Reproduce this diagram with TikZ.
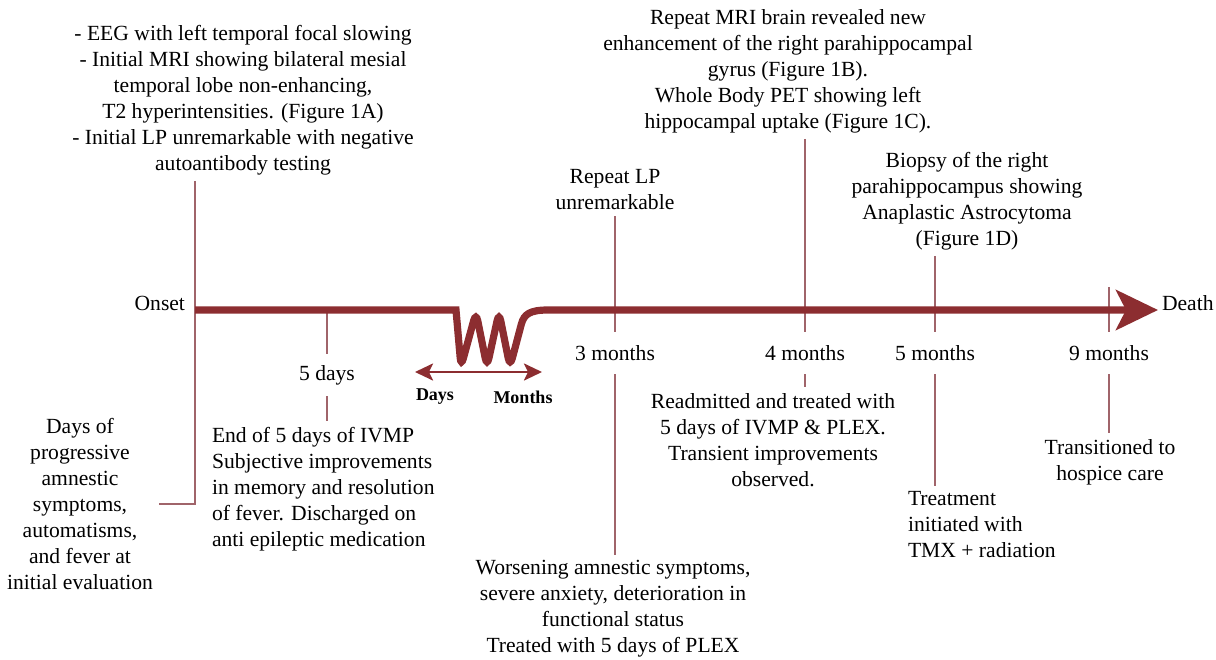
\documentclass[tikz,border=0pt]{standalone}
\usepackage{fontspec}
\setmainfont{Liberation Serif}
\usetikzlibrary{arrows.meta}
\definecolor{linered}{RGB}{140,45,48}
\definecolor{tickred}{RGB}{160,100,106}
\begin{document}
\begin{tikzpicture}[x=0.5pt,y=-0.5pt,
  mainline/.style={draw=linered,line width=3.6pt},
  tick/.style={draw=tickred,line width=1.2pt},
  txt/.style={inner sep=0pt,outer sep=3pt,align=center,font=\fontsize{10.8}{13}\selectfont},
  when/.style={txt,minimum height=21pt,outer sep=0pt}]
\useasboundingbox (0,0) rectangle (1216,659);
% above the line
\node[txt] (mri1) at (243,100) {- EEG with left temporal focal slowing\\
  - Initial MRI showing bilateral mesial\\ temporal lobe non-enhancing,\\
  T2 hyperintensities. (Figure 1A)\\ - Initial LP unremarkable with negative\\
  autoantibody testing};
\node[txt] (lp) at (615,190) {Repeat LP\\ unremarkable};
\node[txt] (mri2) at (788,71) {Repeat MRI brain revealed new\\
  enhancement of the right parahippocampal\\ gyrus (Figure 1B).\\
  Whole Body PET showing left\\ hippocampal uptake (Figure 1C).};
\node[txt] (biopsy) at (967,201) {Biopsy of the right\\ parahippocampus showing\\
  Anaplastic Astrocytoma\\ (Figure 1D)};
\node[txt,anchor=east] (onset) at (191,303) {Onset};
\node[txt,anchor=west] (death) at (1156,303) {Death};
% time points
\node[when] (d5) at (327,375) {5 days};
\node[when] (m3) at (615,353) {3 months};
\node[when] (m4) at (805,353) {4 months};
\node[when] (m5) at (935,353) {5 months};
\node[when] (m9) at (1109,353) {9 months};
% below the line
\node[txt] (prog) at (80,504) {Days of\\ progressive\\ amnestic\\ symptoms,\\
  automatisms,\\ and fever at\\ initial evaluation};
\node[txt,align=left,anchor=west] (ivmp) at (206,489) {End of 5 days of IVMP\\
  Subjective improvements\\ in memory and resolution\\ of fever. Discharged on\\
  anti epileptic medication};
\node[txt,font=\fontsize{9}{11}\bfseries] (days) at (435,397) {Days};
\node[txt,font=\fontsize{9}{11}\bfseries] (months) at (523,397) {Months};
\node[txt] (worse) at (613,609) {Worsening amnestic symptoms,\\
  severe anxiety, deterioration in\\ functional status\\ Treated with 5 days of PLEX};
\node[txt] (readm) at (773,440) {Readmitted and treated with\\ 5 days of IVMP \& PLEX.\\
  Transient improvements\\ observed.};
\node[txt,align=left,anchor=west] (treat) at (902,525) {Treatment\\ initiated with\\
  TMX + radiation};
\node[txt] (hospice) at (1110,462) {Transitioned to\\ hospice care};
% ticks
\coordinate (o) at (195,310);
\coordinate (e) at (1158,310);
\coordinate (h9) at (1109,287);
\draw[tick] (o |- mri1.south) -- (o |- prog.east) -- (prog.east);
\draw[tick] (d5.north |- o) -- (d5.north);
\draw[tick] (d5.south) -- (d5.south |- ivmp.north);
\draw[tick] (m3.north |- lp.south) -- (m3.north);
\draw[tick] (m3.south) -- (m3.south |- worse.north);
\draw[tick] (m4.north |- mri2.south) -- (m4.north);
\draw[tick] (m4.south) -- (m4.south |- readm.north);
\draw[tick] (m5.north |- biopsy.south) -- (m5.north);
\draw[tick] (m5.south) -- (m5.south |- treat.north);
\draw[tick] (h9) -- (m9.north);
\draw[tick] (m9.south) -- (m9.south |- hospice.north);
% time line with the break
\draw[mainline,-{Stealth[length=21pt,width=20pt,inset=5pt]}] (o) -- (456,310)
  {[rounded corners=4.5pt] -- (461,367) -- (476,312) -- (487,367) -- (499,312)
  -- (510,367) -- (519,333)}
  .. controls (524,314) and (530,310) .. (548,310) -- (e);
% days to months
\coordinate (dl) at (415,372);
\coordinate (dr) at (542,372);
\draw[draw=linered,line width=1.3pt,{Stealth[length=9pt,width=8.5pt,inset=2pt]}-{Stealth[length=9pt,width=8.5pt,inset=2pt]}] (dl) -- (dr);
\end{tikzpicture}
\end{document}
